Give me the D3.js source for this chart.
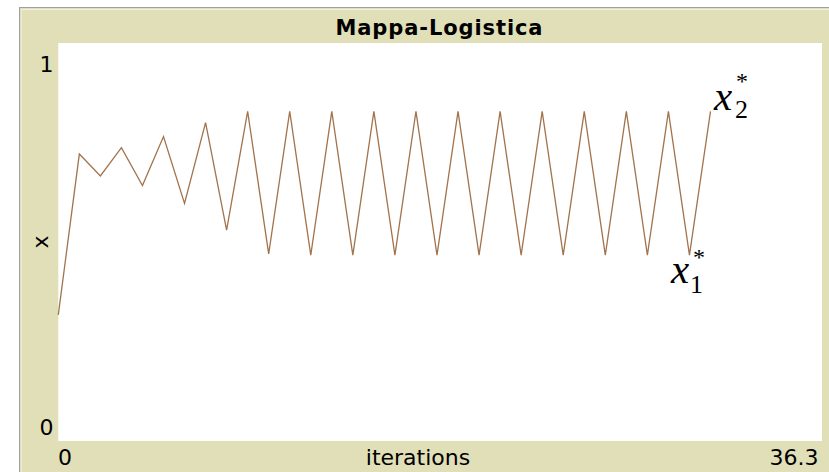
<!DOCTYPE html>
<html>
<head>
<meta charset="utf-8">
<script src="https://cdn.jsdelivr.net/npm/d3@7"></script>
<style>
  body { margin: 0; background: #fff; }
  svg { display: block; }
</style>
</head>
<body>
<svg id="chart" width="829" height="472"></svg>
<script>
// x values, one per iteration (0..31)
let xValues = [0.317, 0.721, 0.666, 0.737, 0.642, 0.765, 0.597, 0.800, 0.530, 0.828,
  0.470, 0.828, 0.467, 0.828, 0.467, 0.828, 0.467, 0.828, 0.467, 0.828,
  0.467, 0.828, 0.467, 0.828, 0.467, 0.828, 0.467, 0.828, 0.467, 0.828,
  0.467, 0.828];
let xDomain = [0, 36.3];
let yDomain = [0, 1];
let xTickLabels = ["0", "36.3"];
let yTickLabels = ["0", "1"];
let title = "Mappa-Logistica";
let xLabel = "iterations";
let yLabel = "x";

let svg = d3.select('#chart');
let width = 829, height = 472;

let plot = {left: 58.3, right: 822, top: 43, bottom: 441};
let beige = '#e0dfb8';

// outer frame
svg.append('rect').attr('x', 19).attr('y', 7).attr('width', width - 19).attr('height', height - 7)
  .attr('fill', beige);
svg.append('line').attr('x1', 19.5).attr('x2', 19.5).attr('y1', 7).attr('y2', height)
  .attr('stroke', '#a0a0a0');
svg.append('line').attr('x1', 19).attr('x2', width).attr('y1', 7.5).attr('y2', 7.5)
  .attr('stroke', '#a0a0a0');
svg.append('line').attr('x1', 21.5).attr('x2', 21.5).attr('y1', 9).attr('y2', height)
  .attr('stroke', '#e8e8e0');
svg.append('line').attr('x1', 21).attr('x2', width).attr('y1', 9.5).attr('y2', 9.5)
  .attr('stroke', '#efefe8');

// plot area
svg.append('rect').attr('x', plot.left).attr('y', plot.top)
  .attr('width', plot.right - plot.left).attr('height', plot.bottom - plot.top)
  .attr('fill', '#fff');

let x_scale = d3.scaleLinear().domain(xDomain).range([plot.left, plot.right]);
let y_scale = d3.scaleLinear().domain(yDomain).range([plot.bottom, plot.top]);

let line = d3.line()
  .x((d, i) => x_scale(i))
  .y(d => y_scale(d));

svg.append('path').datum(xValues)
  .attr('d', line)
  .attr('fill', 'none')
  .attr('stroke', '#a2734c')
  .attr('stroke-width', 1.3)
  .attr('stroke-linejoin', 'miter');

// title
svg.append('text').attr('x', 439).attr('y', 34.5)
  .attr('text-anchor', 'middle')
  .attr('font-family', 'DejaVu Sans')
  .attr('font-weight', 'bold')
  .attr('font-size', 21)
  .attr('textLength', 207).attr('lengthAdjust', 'spacing')
  .attr('fill', '#000')
  .text(title);

let labelFont = {family: 'DejaVu Sans', size: 22};

// y labels
svg.append('text').attr('x', 53.5).attr('y', 72)
  .attr('text-anchor', 'end').attr('font-family', labelFont.family).attr('font-size', labelFont.size)
  .text(yTickLabels[1]);
svg.append('text').attr('x', 53.5).attr('y', 435)
  .attr('text-anchor', 'end').attr('font-family', labelFont.family).attr('font-size', labelFont.size)
  .text(yTickLabels[0]);
svg.append('text').attr('transform', 'translate(48,' + ((plot.top + plot.bottom) / 2) + ') rotate(-90)')
  .attr('text-anchor', 'middle').attr('font-family', labelFont.family).attr('font-size', labelFont.size)
  .text(yLabel);

// x labels
svg.append('text').attr('x', 58).attr('y', 465)
  .attr('font-family', labelFont.family).attr('font-size', labelFont.size)
  .text(xTickLabels[0]);
svg.append('text').attr('x', 818.5).attr('y', 465)
  .attr('text-anchor', 'end').attr('font-family', labelFont.family).attr('font-size', labelFont.size)
  .text(xTickLabels[1]);
svg.append('text').attr('x', 418).attr('y', 465)
  .attr('text-anchor', 'middle').attr('font-family', labelFont.family).attr('font-size', labelFont.size)
  .text(xLabel);

// fixed point annotations: x, subscript and asterisk in one text
function starLabel(x, y, sub, subX, subY, starX, starY){
  let t = svg.append('text').attr('fill', '#000').attr('font-family', 'Liberation Serif');
  t.append('tspan').attr('x', x).attr('y', y)
    .attr('font-style', 'italic').attr('font-size', 41).text('x');
  t.append('tspan').attr('x', subX).attr('y', subY)
    .attr('font-size', 26).text(sub);
  t.append('tspan').attr('x', starX).attr('y', starY)
    .attr('font-size', 24).text('*');
}
starLabel(714, 110, '2', 735, 118, 736, 89);
starLabel(671, 283, '1', 690, 293, 693, 264.5);
</script>
</body>
</html>
